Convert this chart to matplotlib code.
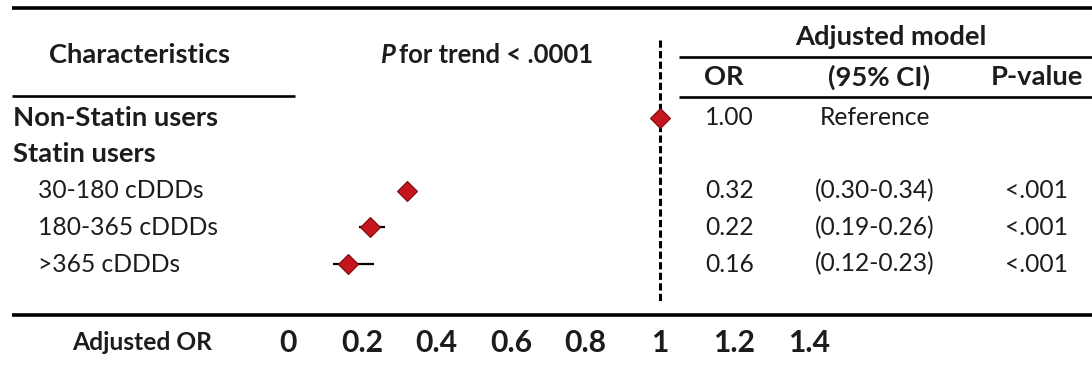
import matplotlib
matplotlib.use("Agg")
import matplotlib.pyplot as plt
from matplotlib.lines import Line2D

# ---------------- data ----------------
row_labels = ["Non-Statin users", "Statin users", "30-180 cDDDs", "180-365 cDDDs", ">365 cDDDs"]
row_bold = [True, True, False, False, False]
row_indent = [False, False, True, True, True]
or_vals = [1.00, None, 0.32, 0.22, 0.16]
ci_low = [None, None, 0.30, 0.19, 0.12]
ci_high = [None, None, 0.34, 0.26, 0.23]
or_text = ["1.00", "", "0.32", "0.22", "0.16"]
ci_text = ["Reference", "", "(0.30-0.34)", "(0.19-0.26)", "(0.12-0.23)"]
p_text = ["", "", "<.001", "<.001", "<.001"]
tick_vals = [0, 0.2, 0.4, 0.6, 0.8, 1, 1.2, 1.4]
tick_labels = ["0", "0.2", "0.4", "0.6", "0.8", "1", "1.2", "1.4"]
ref_value = 1.0

# ---------------- layout helpers (pixels) ----------------
W, H, DPI = 1092, 365, 100
X0_PX, UNIT_PX = 288, 372        # pixel of OR=0, pixels per OR unit
ROW0_PX, ROW_PX = 118, 36.5      # pixel of first row, row spacing
FONT = "Lato"
INK = "#1c1c1c"

def vx(p):  # pixel x -> data x
    return (p - X0_PX) / UNIT_PX

def ry(p):  # pixel y -> row units
    return (p - ROW0_PX) / ROW_PX

fig = plt.figure(figsize=(W / DPI, H / DPI), dpi=DPI)
ax = fig.add_axes([0, 0, 1, 1])
ax.set_xlim(vx(0), vx(W))
ax.set_ylim(ry(H), ry(0))
ax.axis("off")
renderer = fig.canvas.get_renderer()

def fit_size(s, target_px, weight="normal", style="normal"):
    t = fig.text(0, 0, s, fontsize=10, family=FONT, weight=weight, style=style)
    w = t.get_window_extent(renderer).width
    t.remove()
    return 10 * target_px / w

fs_bold = fit_size("Non-Statin users", 206, weight="bold")
fs_reg = fit_size("30-180 cDDDs", 165)
fs_tick = fit_size("0.8", 42, weight="bold")
fs_axlab = fit_size("Adjusted OR", 140, weight="bold")
fs_trend = 0.5 * (fs_bold + fit_size("P for trend < .0001", 201, weight="bold"))

def hline(y, x1, x2, lw):
    fig.add_artist(Line2D([x1 / W, x2 / W], [1 - y / H, 1 - y / H],
                          transform=fig.transFigure, color="black", lw=lw,
                          solid_capstyle="butt"))

# horizontal rules
hline(8, 12, W, 2.6)
hline(96, 12, 295, 1.9)
hline(57, 679, W, 1.9)
hline(97, 679, W, 1.9)
hline(315, 12, W, 2.6)

# dashed reference line
plt.rcParams["lines.scale_dashes"] = False
ax.plot([ref_value, ref_value], [ry(40), ry(303)], color="black", lw=2.2,
        linestyle=(0, (5.2, 2.4)), solid_capstyle="butt")

# headers
def txt(xp, yp, s, size, ha="center", weight="normal", style="normal"):
    return ax.text(vx(xp), ry(yp), s, fontsize=size, family=FONT, weight=weight,
                   style=style, ha=ha, va="center", color=INK)

txt(140, 55, "Characteristics", fs_bold, weight="bold")
tp = txt(380, 55, "P", fs_trend, ha="left", weight="bold", style="italic")
bb = tp.get_window_extent(renderer)
txt(bb.x1 + 4, 55, "for trend < .0001", fs_trend, ha="left", weight="bold")
txt(891, 37, "Adjusted model", fs_bold, weight="bold")
txt(724, 77, "OR", fs_bold, weight="bold")
txt(879, 77, "(95% CI)", fs_bold, weight="bold")
txt(1037, 77, "P-value", fs_bold, weight="bold")

# rows
for i, lab in enumerate(row_labels):
    xp = 38 if row_indent[i] else 13
    ax.text(vx(xp), i, lab, fontsize=fs_bold if row_bold[i] else fs_reg, family=FONT,
            weight="bold" if row_bold[i] else "normal", ha="left", va="center", color=INK)
    ax.text(vx(705), i, or_text[i], fontsize=fs_reg, family=FONT, ha="left", va="center", color=INK)
    ax.text(vx(875), i, ci_text[i], fontsize=fs_reg, family=FONT, ha="center", va="center", color=INK)
    ax.text(vx(1068), i, p_text[i], fontsize=fs_reg, family=FONT, ha="right", va="center", color=INK)
    if ci_low[i] is not None:
        ax.plot([ci_low[i], ci_high[i]], [i, i], color="black", lw=1.6, solid_capstyle="butt", zorder=3)
    if or_vals[i] is not None:
        ax.plot([or_vals[i]], [i], marker="D", ms=9.8, color="#c4161c",
                markeredgecolor="#7a0c0c", markeredgewidth=0.8, zorder=4)

# bottom axis labels
for v, s in zip(tick_vals, tick_labels):
    ax.text(v, ry(343), s, fontsize=fs_tick, family=FONT, weight="bold",
            ha="center", va="center", color=INK)
txt(142, 343, "Adjusted OR", fs_axlab, weight="bold")

fig.savefig("out.png", dpi=DPI, facecolor="white")
